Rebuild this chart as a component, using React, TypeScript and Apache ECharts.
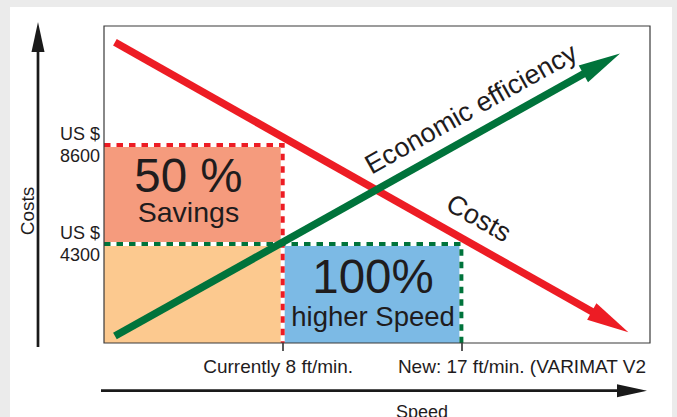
import React, { useEffect, useRef } from 'react';
import * as echarts from 'echarts';

// ---- data ----
const X_MIN = -1;
const X_MAX = 26.5;
const Y_MAX = 13770;

const currentSpeed = 8;
const newSpeed = 17;
const currentCost = 8600;
const newCost = 4300;

const speedTicks = [currentSpeed, newSpeed];
const speedLabels = ['Currently 8 ft/min.', 'New: 17 ft/min. (VARIMAT V2'];
const costTicks = [newCost, currentCost];
const costPrefix = 'US $';

const costsLine = [[-0.45, 13060], [25.41, 470]];
const efficiencyLine = [[-0.45, 300], [24.99, 12580]];
const lineNames = ['Costs', 'Economic efficiency'];

const savingsBox = [X_MIN, newCost, currentSpeed, currentCost];
const baseBox = [X_MIN, 0, currentSpeed, newCost];
const speedBox = [currentSpeed, 0, newSpeed, newCost];
const boxTexts = [['50 %', 'Savings'], null, ['100%', 'higher Speed']];

const savingsGuide = [[X_MIN, currentCost], [currentSpeed, currentCost], [currentSpeed, 0]];
const speedGuide = [[X_MIN, newCost], [newSpeed, newCost], [newSpeed, 0]];

const axisTitleY = 'Costs';
const axisTitleX = 'Speed';

// ---- styles ----
const FONT = '"Liberation Sans", Arial, Helvetica, sans-serif';
const INK = '#1f1c1d';
const RED = '#ed1c24';
const GREEN = '#00733b';
const SALMON = '#f59b7d';
const BEIGE = '#fcc98f';
const BLUE = '#7cbae5';

const boxes = [savingsBox, baseBox, speedBox];
const boxColors = [SALMON, BEIGE, BLUE];
const boxTextLayout = [
  { dx: -4.9, dy: -2.7, bigLH: 40, smallLH: 32, big: 47.5, small: 28.5 },
  null,
  { dx: 1, dy: 0.5, bigLH: 44, smallLH: 35, big: 47.5, small: 27.5 },
];
const guides = [savingsGuide, speedGuide];
const guideColors = [RED, GREEN];
const arrows = [costsLine, efficiencyLine];
const arrowColors = [RED, GREEN];
const arrowLabelPos = [
  { t: 0.684, off: 25.9 },
  { t: 0.7285, off: 24.5 },
];
const xLabelStyle = [
  { dx: -4.5, align: 'center' },
  { dx: -63.5, align: 'left' },
];

export default function App() {
  const ref = useRef<HTMLDivElement>(null);

  useEffect(() => {
    if (!ref.current) return;
    const chart = echarts.init(ref.current, null, { renderer: 'svg' });

    const option: any = {
      animation: false,
      backgroundColor: 'transparent',
      textStyle: { fontFamily: FONT },
      grid: {
        left: 104,
        top: 26,
        width: 546,
        height: 317,
        show: true,
        z: 10,
        backgroundColor: 'transparent',
        borderColor: '#3a3a3a',
        borderWidth: 1.2,
      },
      xAxis: {
        type: 'value',
        min: X_MIN,
        max: X_MAX,
        splitLine: { show: false },
        axisLine: { show: false },
        axisTick: {
          show: true,
          customValues: speedTicks,
          length: 8,
          lineStyle: { color: '#222', width: 1.5 },
        },
        axisLabel: { show: false },
      },
      yAxis: {
        type: 'value',
        min: 0,
        max: Y_MAX,
        splitLine: { show: false },
        axisLine: { show: false },
        axisTick: {
          show: true,
          customValues: costTicks,
          length: 7,
          lineStyle: { color: '#222', width: 1.5 },
        },
        axisLabel: {
          customValues: costTicks,
          formatter: (v: number) => `${costPrefix}\n${v}`,
          fontSize: 18,
          lineHeight: 22,
          color: INK,
          margin: 4,
          fontFamily: FONT,
        },
      },
      series: [
        {
          type: 'custom',
          coordinateSystem: 'cartesian2d',
          z: 1,
          data: boxes,
          renderItem: (params: any, api: any) => {
            const i = params.dataIndex;
            const b = boxes[i];
            const p0 = api.coord([b[0], b[3]]);
            const p1 = api.coord([b[2], b[1]]);
            const children: any[] = [
              {
                type: 'rect',
                shape: { x: p0[0], y: p0[1], width: p1[0] - p0[0], height: p1[1] - p0[1] },
                style: { fill: boxColors[i] },
              },
            ];
            const t = boxTexts[i];
            const lay = boxTextLayout[i];
            if (t && lay) {
              const cx = (p0[0] + p1[0]) / 2;
              const cy = (p0[1] + p1[1]) / 2;
              children.push({
                type: 'text',
                x: cx + lay.dx,
                y: cy + lay.dy,
                style: {
                  text: `{a|${t[0]}}\n{b|${t[1]}}`,
                  fontFamily: FONT,
                  fill: INK,
                  align: 'center',
                  verticalAlign: 'middle',
                  rich: {
                    a: { fontSize: lay.big, lineHeight: lay.bigLH, fontFamily: FONT, fill: INK, align: 'center' },
                    b: { fontSize: lay.small, lineHeight: lay.smallLH, fontFamily: FONT, fill: INK, align: 'center' },
                  },
                },
              });
            }
            return { type: 'group', children };
          },
        },
        {
          type: 'custom',
          coordinateSystem: 'cartesian2d',
          z: 3,
          data: guides.map((g) => g[0]),
          renderItem: (params: any, api: any) => {
            const i = params.dataIndex;
            const pts = guides[i].map((p) => api.coord(p));
            return {
              type: 'group',
              children: [
                { type: 'polyline', shape: { points: pts }, style: { stroke: '#ffffff', lineWidth: 4, fill: null } },
                {
                  type: 'polyline',
                  shape: { points: pts },
                  style: { stroke: guideColors[i], lineWidth: 4, fill: null, lineDash: [6.5, 6], lineCap: 'butt' },
                },
              ],
            };
          },
        },
        {
          type: 'custom',
          coordinateSystem: 'cartesian2d',
          z: 4,
          data: arrows.map((a) => a[0]),
          renderItem: (params: any, api: any) => {
            const i = params.dataIndex;
            const a = api.coord(arrows[i][0]);
            const b = api.coord(arrows[i][1]);
            const dx = b[0] - a[0];
            const dy = b[1] - a[1];
            const len = Math.hypot(dx, dy);
            const ux = dx / len;
            const uy = dy / len;
            const nx = -uy;
            const ny = ux;
            const L = 42;
            const W = 19;
            const bx = b[0] - ux * L;
            const by = b[1] - uy * L;
            const lp = arrowLabelPos[i];
            const px = a[0] + dx * lp.t + uy * lp.off;
            const py = a[1] + dy * lp.t - ux * lp.off;
            return {
              type: 'group',
              children: [
                {
                  type: 'line',
                  z2: i * 10,
                  shape: { x1: a[0], y1: a[1], x2: bx + ux * 3, y2: by + uy * 3 },
                  style: { stroke: arrowColors[i], lineWidth: 7.5, lineCap: 'butt' },
                },
                {
                  type: 'polygon',
                  z2: i * 10 + 1,
                  shape: { points: [[b[0], b[1]], [bx + (nx * W) / 2, by + (ny * W) / 2], [bx - (nx * W) / 2, by - (ny * W) / 2]] },
                  style: { fill: arrowColors[i] },
                },
                {
                  type: 'text',
                  z2: 30,
                  x: px,
                  y: py,
                  rotation: -Math.atan2(dy, dx),
                  style: { text: lineNames[i], fontSize: 27, fontFamily: FONT, fill: INK, align: 'center', verticalAlign: 'middle' },
                },
              ],
            };
          },
        },
        {
          type: 'custom',
          coordinateSystem: 'cartesian2d',
          z: 5,
          clip: false,
          data: speedTicks.map((v) => [v, 0]),
          renderItem: (params: any, api: any) => {
            const i = params.dataIndex;
            const p = api.coord([speedTicks[i], 0]);
            return {
              type: 'text',
              x: p[0] + xLabelStyle[i].dx,
              y: p[1] + 23,
              style: {
                text: speedLabels[i],
                fontSize: 19,
                fontFamily: FONT,
                fill: INK,
                align: xLabelStyle[i].align,
                verticalAlign: 'middle',
              },
            };
          },
        },
      ],
      graphic: {
        elements: [
          { type: 'line', shape: { x1: 38, y1: 347, x2: 38, y2: 45 }, style: { stroke: '#1a1a1a', lineWidth: 2.7 } },
          { type: 'polygon', shape: { points: [[38, 22], [31.5, 52], [44.5, 52]] }, style: { fill: '#1a1a1a' } },
          { type: 'line', shape: { x1: 101, y1: 390.7, x2: 622, y2: 390.7 }, style: { stroke: '#1a1a1a', lineWidth: 2.7 } },
          { type: 'polygon', shape: { points: [[647, 390.7], [617, 384.2], [617, 397.2]] }, style: { fill: '#1a1a1a' } },
          {
            type: 'text',
            x: 27.5,
            y: 211,
            rotation: Math.PI / 2,
            style: { text: axisTitleY, fontSize: 19, fontFamily: FONT, fill: INK, align: 'center', verticalAlign: 'middle' },
          },
          {
            type: 'text',
            x: 422,
            y: 411.5,
            style: { text: axisTitleX, fontSize: 18, fontFamily: FONT, fill: INK, align: 'center', verticalAlign: 'middle' },
          },
        ],
      },
    };

    chart.setOption(option);
    return () => chart.dispose();
  }, []);

  return (
    <div style={{ position: 'fixed', left: 0, top: 0, width: 677, height: 417, background: '#ebebeb', overflow: 'hidden' }}>
      <div style={{ position: 'absolute', left: 10, top: 7, width: 662, height: 410, background: '#ffffff' }} />
      <div ref={ref} style={{ position: 'absolute', left: 0, top: 0, width: 677, height: 417 }} />
    </div>
  );
}
